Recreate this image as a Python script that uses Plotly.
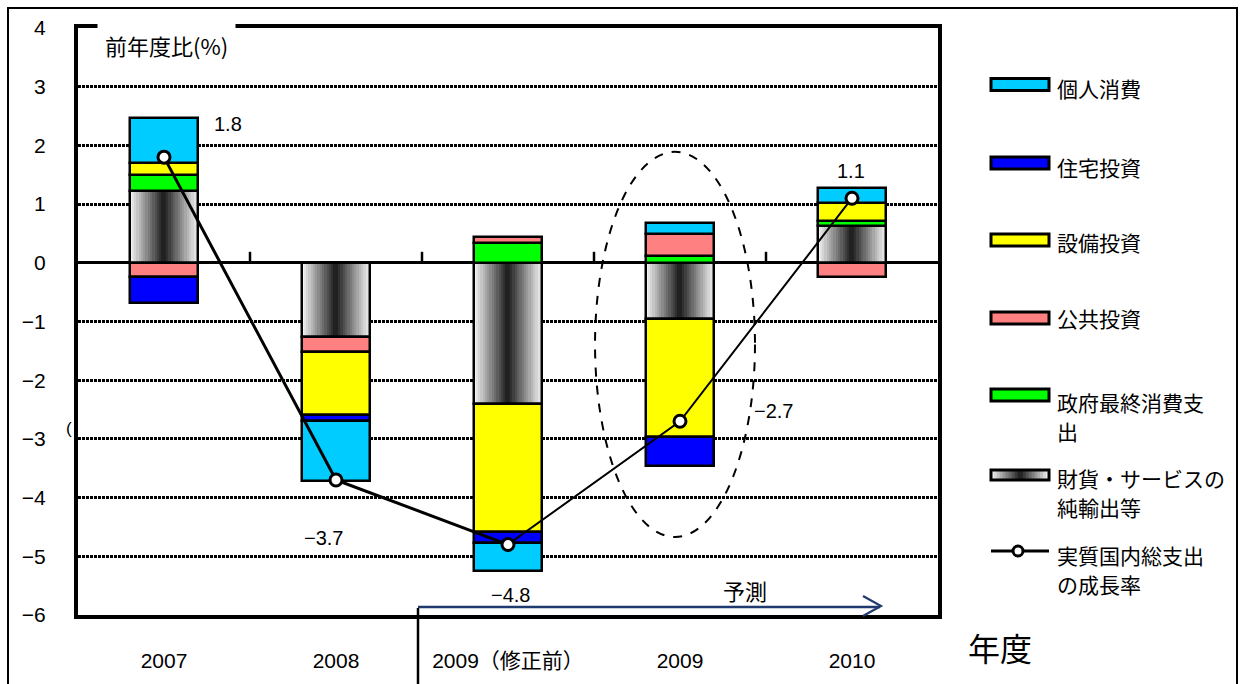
import plotly.graph_objects as go

# ---------------- data ----------------
categories = ["2007", "2008", "2009（修正前）", "2009", "2010"]
net_exports = [1.23, -1.26, -2.40, -0.96, 0.62]      # 財貨・サービスの純輸出等
gov_consumption = [0.27, 0.0, 0.34, 0.11, 0.10]      # 政府最終消費支出
public_inv = [-0.24, -0.26, 0.10, 0.38, -0.24]       # 公共投資
capex = [0.20, -1.07, -2.18, -2.00, 0.30]            # 設備投資
housing = [-0.44, -0.10, -0.19, -0.51, 0.0]          # 住宅投資
consumption = [0.77, -1.02, -0.48, 0.19, 0.26]       # 個人消費
gdp_growth = [1.8, -3.7, -4.8, -2.7, 1.1]            # 実質国内総支出の成長率
gdp_labels = ["1.8", "−3.7", "−4.8", "−2.7", "1.1"]
y_ticks = [-6, -5, -4, -3, -2, -1, 0, 1, 2, 3, 4]

FONT = "Liberation Sans, Arial, Noto Sans CJK JP, sans-serif"
JFONT = "Noto Sans CJK JP, sans-serif"

W_FIG, H_FIG = 1244, 684
L, R, T, B = 78, 938, 28, 615
PW, PH = R - L, B - T


def xp(p):
    return (p - L) / PW


def yp(p):
    return (B - p) / PH


xs = list(range(len(categories)))
BW = 0.4
OFF = -BW / 2

# stacking order (relative stacking, positives up / negatives down)
series = [
    ("財貨・サービスの純輸出等", net_exports, None),
    ("政府最終消費支出", gov_consumption, "#00FF00"),
    ("公共投資", public_inv, "#FF8080"),
    ("設備投資", capex, "#FFFF00"),
    ("住宅投資", housing, "#0000FF"),
    ("個人消費", consumption, "#00CCFF"),
]

pos_cum = [0.0] * len(xs)
neg_cum = [0.0] * len(xs)
stacked = []
for name, vals, color in series:
    bases, heights = [], []
    for i, v in enumerate(vals):
        if v > 0:
            bases.append(pos_cum[i]); heights.append(v); pos_cum[i] += v
        elif v < 0:
            bases.append(neg_cum[i]); heights.append(v); neg_cum[i] += v
        else:
            bases.append(None); heights.append(None)
    stacked.append((name, bases, heights, color))

fig = go.Figure()

# gradient net-exports segments (vertical strips)
g_name, g_base, g_h, _ = stacked[0]
N = 30
sw = BW / N
for k in range(N):
    c = OFF + (k + 0.5) * sw
    t = abs(c) / (BW / 2)
    g = int(26 + 224 * t)
    fig.add_trace(go.Bar(
        x=xs, y=g_h, base=g_base, width=sw * 1.2, offset=OFF + k * sw - sw * 0.1,
        marker=dict(color=f"rgb({g},{g},{g})", line=dict(width=0)),
        showlegend=False, hoverinfo="skip"))
# outline of net exports
fig.add_trace(go.Bar(
    x=xs, y=g_h, base=g_base, width=BW, offset=OFF, name=g_name,
    marker=dict(color="rgba(0,0,0,0)", line=dict(color="black", width=2.5)),
    showlegend=False))

for name, bases, heights, color in stacked[1:]:
    fig.add_trace(go.Bar(
        x=xs, y=heights, base=bases, width=BW, offset=OFF, name=name,
        marker=dict(color=color, line=dict(color="black", width=2.5)),
        showlegend=False))

# GDP growth line: actual (thick) and forecast (thin)
fig.add_trace(go.Scatter(x=xs[:3], y=gdp_growth[:3], mode="lines",
                         line=dict(color="black", width=3), showlegend=False, hoverinfo="skip"))
fig.add_trace(go.Scatter(x=xs[2:], y=gdp_growth[2:], mode="lines",
                         line=dict(color="black", width=2), showlegend=False, hoverinfo="skip"))
fig.add_trace(go.Scatter(x=xs, y=gdp_growth, mode="markers", name="実質国内総支出の成長率",
                         marker=dict(symbol="circle", size=12, color="white",
                                     line=dict(color="black", width=3)),
                         showlegend=False))

shapes = []
annotations = []

# small category ticks on the zero line
for i in range(len(xs) - 1):
    shapes.append(dict(type="line", xref="x", yref="y", x0=i + 0.5, x1=i + 0.5,
                       ysizemode="pixel", yanchor=0, y0=0, y1=11,
                       line=dict(color="black", width=2.5)))

# dashed ellipse around 2009 forecast
shapes.append(dict(type="circle", xref="x", yref="y", x0=2.506, x1=3.436, y0=-4.67, y1=1.89,
                   line=dict(color="black", width=2, dash="dash")))

# outer frame
shapes.append(dict(type="rect", xref="paper", yref="paper", x0=xp(8), x1=xp(1237),
                   y0=yp(720), y1=yp(8), line=dict(color="black", width=2), layer="above"))
# vertical divider below axis
shapes.append(dict(type="line", xref="paper", yref="paper", x0=xp(418), x1=xp(418),
                   y0=yp(608), y1=yp(700), line=dict(color="black", width=2.5)))
# forecast arrow
navy = "#1F3A6E"
shapes.append(dict(type="line", xref="paper", yref="paper", x0=xp(418), x1=xp(880),
                   y0=yp(607), y1=yp(607), line=dict(color=navy, width=2.5)))
shapes.append(dict(type="path", xref="paper", yref="paper",
                   path=f"M{xp(863)},{yp(596)} L{xp(881)},{yp(606)} L{xp(863)},{yp(616)}",
                   line=dict(color=navy, width=2.2)))

# data labels for GDP growth
label_shift = [(64, 33), (-13, -58), (2, -50), (93, 10), (-1, 27)]
for i, (lab, (dx, dy)) in enumerate(zip(gdp_labels, label_shift)):
    annotations.append(dict(x=xs[i], y=gdp_growth[i], xref="x", yref="y", text=lab,
                            showarrow=False, xshift=dx, yshift=dy,
                            xanchor="center", yanchor="middle",
                            font=dict(size=20, color="black", family=FONT)))

# y axis title box on top border
annotations.append(dict(x=xp(97), y=yp(45), xref="paper", yref="paper", text="前年度比(%)",
                        showarrow=False, xanchor="left", yanchor="middle",
                        bgcolor="white", borderpad=7,
                        font=dict(size=22, color="black", family=JFONT)))
annotations.append(dict(x=xp(69), y=yp(428), xref="paper", yref="paper", text="(",
                        showarrow=False, xanchor="center", yanchor="middle",
                        font=dict(size=17, color="black", family=FONT)))
annotations.append(dict(x=xp(745), y=yp(590), xref="paper", yref="paper", text="予測",
                        showarrow=False, xanchor="center", yanchor="middle",
                        font=dict(size=22, color="black", family=JFONT)))
annotations.append(dict(x=xp(1000), y=yp(647), xref="paper", yref="paper", text="年度",
                        showarrow=False, xanchor="center", yanchor="middle",
                        font=dict(size=32, color="black", family=JFONT)))

# custom legend (each text line placed separately)
leg = [
    (["個人消費"], "#00CCFF", 84.5, [88]),
    (["住宅投資"], "#0000FF", 163, [167]),
    (["設備投資"], "#FFFF00", 240, [242]),
    (["公共投資"], "#FF8080", 318, [318]),
    (["政府最終消費支", "出"], "#00FF00", 395, [402, 431]),
    (["財貨・サービスの", "純輸出等"], "grad", 475, [478, 507]),
    (["実質国内総支出", "の成長率"], "line", 551, [555, 584]),
]
sx0, sx1 = 991, 1049
for lines, color, sy, tys in leg:
    if color == "line":
        shapes.append(dict(type="line", xref="paper", yref="paper", x0=xp(sx0), x1=xp(sx1),
                           y0=yp(sy), y1=yp(sy), line=dict(color="black", width=3)))
        shapes.append(dict(type="circle", xref="paper", yref="paper", x0=xp(1013), x1=xp(1023),
                           y0=yp(sy + 5), y1=yp(sy - 5), fillcolor="white",
                           line=dict(color="black", width=3)))
    elif color == "grad":
        n = 20
        for k in range(n):
            a = sx0 + (sx1 - sx0) * k / n
            b = sx0 + (sx1 - sx0) * (k + 1) / n
            t = abs((a + b) / 2 - 1020) / 29
            g = int(26 + 224 * min(t, 1))
            shapes.append(dict(type="rect", xref="paper", yref="paper", x0=xp(a), x1=xp(b + 0.5),
                               y0=yp(sy + 5), y1=yp(sy - 5), fillcolor=f"rgb({g},{g},{g})",
                               line=dict(width=0)))
        shapes.append(dict(type="rect", xref="paper", yref="paper", x0=xp(sx0), x1=xp(sx1),
                           y0=yp(sy + 5), y1=yp(sy - 5), line=dict(color="black", width=3)))
    else:
        shapes.append(dict(type="rect", xref="paper", yref="paper", x0=xp(sx0), x1=xp(sx1),
                           y0=yp(sy + 6), y1=yp(sy - 6), fillcolor=color,
                           line=dict(color="black", width=3)))
    for line_text, ty in zip(lines, tys):
        annotations.append(dict(x=xp(1055), y=yp(ty), xref="paper", yref="paper", text=line_text,
                                showarrow=False, xanchor="left", yanchor="middle", align="left",
                                font=dict(size=21, color="black", family=JFONT)))

fig.update_layout(
    width=W_FIG, height=H_FIG,
    margin=dict(l=L, r=W_FIG - R, t=T, b=H_FIG - B, autoexpand=False),
    paper_bgcolor="white", plot_bgcolor="white",
    barmode="overlay", bargap=0,
    showlegend=False,
    font=dict(family=FONT, color="black"),
    shapes=shapes, annotations=annotations,
    xaxis=dict(range=[-0.5, 4.5], tickvals=xs, ticktext=categories, ticks="",
               showgrid=False, zeroline=False, showline=True, mirror=True,
               linecolor="black", linewidth=4, ticklabelstandoff=24,
               tickfont=dict(size=21, family=FONT), fixedrange=True),
    yaxis=dict(range=[-6, 4], tickvals=y_ticks, ticks="", showgrid=True,
               gridcolor="black", gridwidth=3, griddash="3px,1px",
               zeroline=True, zerolinecolor="black", zerolinewidth=3,
               showline=True, mirror=True, linecolor="black", linewidth=4,
               ticklabelstandoff=24, tickfont=dict(size=21, family=FONT), fixedrange=True),
)

fig.write_html("out.html")
